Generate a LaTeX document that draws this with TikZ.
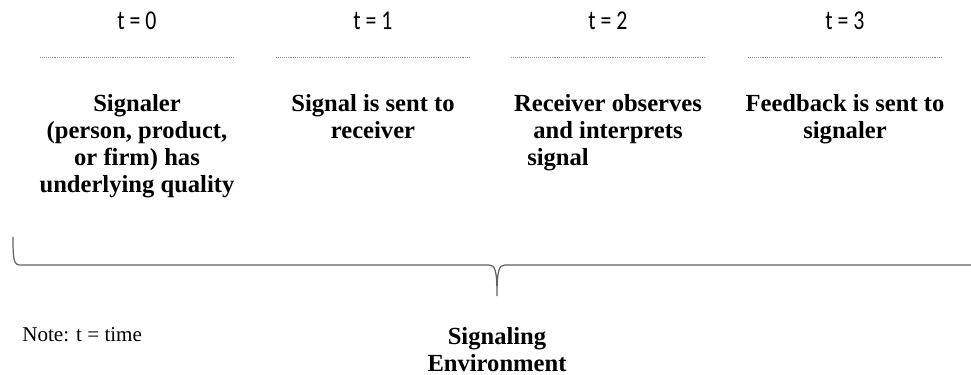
\documentclass[tikz,border=0pt]{standalone}
\usepackage{fontspec}
\setmainfont{Liberation Serif}
\newfontfamily\stepfont{Carlito}[FakeStretch=0.8]
\usetikzlibrary{positioning}

\tikzset{
  timelabel/.style={inner sep=0pt, font=\stepfont\fontsize{15.5}{18}\selectfont},
  notetext/.style={inner sep=0pt, font=\fontsize{12}{14}\selectfont},
  steptext/.style={inner sep=0pt, anchor=north, align=center,
    font=\bfseries\fontsize{14}{15.4}\selectfont},
  sepline/.style={black!45, line width=0.4pt, dash pattern=on 0.5pt off 0.6pt},
  bracket/.style={black!62, line width=0.7pt},
}

\begin{document}
\begin{tikzpicture}[x=0.02cm, y=-0.02cm]
    \useasboundingbox (0,0) rectangle (971,375);

    % ==========================================
    % Time steps
    % ==========================================
    \foreach \i/\cx in {0/137, 1/373, 2/608, 3/845} {
        \node[timelabel] (t\i) at (\cx, 21) {t = \i};
        \draw[sepline] (\cx-97, 57) -- (\cx+97, 57);
    }

    % what happens at each step
    \node[steptext] (s0) at (137, 94) {Signaler\\(person, product,\\or firm) has\\underlying quality};
    \node[steptext] (s1) at (373, 94) {Signal is sent to\\receiver};
    \node[steptext] (s2) at (608, 94) {Receiver observes\\and interprets\\signal\hspace*{2cm}};
    \node[steptext] (s3) at (845, 94) {Feedback is sent to\\signaler};

    % ==========================================
    % Brace over the environment
    % ==========================================
    \draw[bracket] (13, 237) .. controls (13, 262) and (14, 265) .. (21, 265)
        -- (489, 265) .. controls (495, 265) and (497, 270) .. (497, 296)
        .. controls (497, 270) and (499, 265) .. (505, 265) -- (971, 265);

    \node[steptext] (env) at (497, 327) {Signaling\\Environment};
    \node[notetext, anchor=west] (note) at (22, 335) {Note: t = time};
\end{tikzpicture}
\end{document}
